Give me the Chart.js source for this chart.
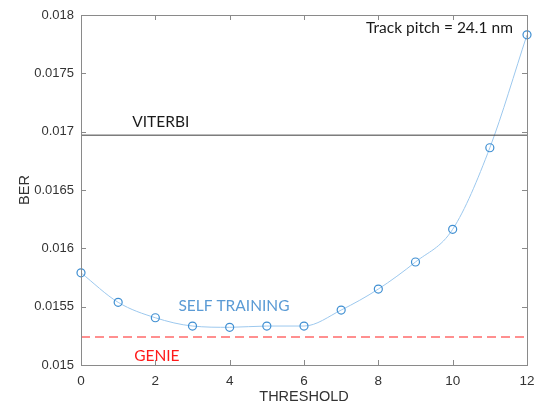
<!DOCTYPE html>
<html>
<head>
<meta charset="utf-8">
<script src="https://cdn.jsdelivr.net/npm/chart.js@4"></script>
<style>
  html, body { margin: 0; padding: 0; background: #fff; }
  #wrap { width: 537px; height: 410px; }
</style>
</head>
<body>
<div id="wrap"><canvas id="chart" width="537" height="410"></canvas></div>
<script>
const thresholds = [0, 1, 2, 3, 4, 5, 6, 7, 8, 9, 10, 11, 12];
const selfTraining = [0.01579, 0.015537, 0.015405, 0.015334, 0.015323, 0.015334, 0.015334,
                      0.015471, 0.015651, 0.015883, 0.016163, 0.016862, 0.01783];
const viterbiBer = 0.01697;
const genieBer = 0.01524;
const xTicks = [0, 2, 4, 6, 8, 10, 12];
const yTicks = [0.015, 0.0155, 0.016, 0.0165, 0.017, 0.0175, 0.018];

const labelFont = "Lato, 'Open Sans', sans-serif";
const axisFont = "'Liberation Sans', Arial, sans-serif";
const axisColor = "#8a8a8a";

// frame ticks on all four sides, pointing inward, plus the top/right box lines
const boxPlugin = {
    id: "box",
    afterDraw(c) {
        const { ctx, chartArea: a, scales: { x, y } } = c;
        ctx.save();
        ctx.strokeStyle = axisColor;
        ctx.lineWidth = 1;
        ctx.beginPath();
        ctx.strokeRect(a.left + 0.5, a.top + 0.5, a.right - a.left, a.bottom - a.top);
        xTicks.forEach(v => {
            const px = Math.round(x.getPixelForValue(v)) + 0.5;
            ctx.moveTo(px, a.bottom); ctx.lineTo(px, a.bottom - 5);
            ctx.moveTo(px, a.top); ctx.lineTo(px, a.top + 5);
        });
        yTicks.forEach(v => {
            const py = Math.round(y.getPixelForValue(v)) + 0.5;
            ctx.moveTo(a.left, py); ctx.lineTo(a.left + 5, py);
            ctx.moveTo(a.right, py); ctx.lineTo(a.right - 5, py);
        });
        ctx.stroke();
        ctx.restore();
    }
};

// text labels placed by data coordinates
const notes = [
    { text: "VITERBI", x: 1.38, y: 0.01708, color: "#1a1a1a" },
    { text: "SELF TRAINING", x: 2.62, y: 0.01551, color: "#5b9bd5" },
    { text: "GENIE", x: 1.43, y: 0.01508, color: "#ff1a1a" },
    { text: "Track pitch = 24.1 nm", x: 7.67, y: 0.01789, color: "#1a1a1a" }
];
const notesPlugin = {
    id: "notes",
    afterDatasetsDraw(c) {
        const { ctx, scales: { x, y } } = c;
        ctx.save();
        ctx.font = "15.5px " + labelFont;
        ctx.textBaseline = "middle";
        ctx.textAlign = "left";
        notes.forEach(n => {
            ctx.fillStyle = n.color;
            ctx.fillText(n.text, x.getPixelForValue(n.x), y.getPixelForValue(n.y));
        });
        ctx.restore();
    }
};

new Chart(document.getElementById("chart"), {
    type: "line",
    data: {
        datasets: [
            {
                label: "VITERBI",
                data: [{ x: 0, y: viterbiBer }, { x: 12, y: viterbiBer }],
                borderColor: "#3a3a3a",
                borderWidth: 1,
                pointRadius: 0
            },
            {
                label: "GENIE",
                data: [{ x: 0, y: genieBer }, { x: 12, y: genieBer }],
                borderColor: "#ff2020",
                borderWidth: 1.2,
                borderDash: [9, 5],
                pointRadius: 0
            },
            {
                label: "SELF TRAINING",
                data: thresholds.map((t, i) => ({ x: t, y: selfTraining[i] })),
                borderColor: "#9cc8ee",
                borderWidth: 1,
                cubicInterpolationMode: "monotone",
                pointRadius: 4,
                pointBorderWidth: 1.2,
                pointBorderColor: "#3f8fd2",
                pointBackgroundColor: "rgba(255,255,255,0)"
            }
        ]
    },
    options: {
        responsive: false,
        animation: false,
        clip: false,
        layout: { padding: { top: 15, right: 10, left: 12, bottom: 0 } },
        plugins: {
            legend: { display: false },
            tooltip: { enabled: false }
        },
        scales: {
            x: {
                type: "linear",
                min: 0,
                max: 12,
                afterBuildTicks: s => { s.ticks = xTicks.map(v => ({ value: v })); },
                afterFit: s => { s.height = 45; s.paddingLeft = 0; s.paddingRight = 0; },
                grid: { display: false, drawTicks: false },
                border: { color: axisColor },
                ticks: { color: "#333", font: { family: axisFont, size: 13.5 }, padding: 8 },
                title: { display: true, text: "THRESHOLD", color: "#333",
                         font: { family: axisFont, size: 14.5 }, padding: { top: 1 } }
            },
            y: {
                type: "linear",
                min: 0.015,
                max: 0.018,
                afterBuildTicks: s => { s.ticks = yTicks.map(v => ({ value: v })); },
                afterFit: s => { s.width = 69; s.paddingTop = 0; s.paddingBottom = 0; },
                grid: { display: false, drawTicks: false },
                border: { color: axisColor },
                ticks: { color: "#333", font: { family: axisFont, size: 13 }, padding: 7,
                         callback: v => String(v) },
                title: { display: true, text: "BER", color: "#333",
                         font: { family: axisFont, size: 14.5 }, padding: { bottom: 0 } }
            }
        }
    },
    plugins: [boxPlugin, notesPlugin]
});
</script>
</body>
</html>
